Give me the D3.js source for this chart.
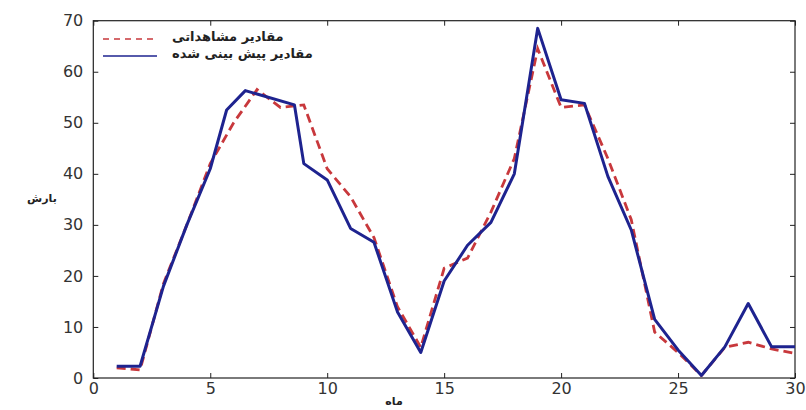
<!DOCTYPE html>
<html lang="fa">
<head>
<meta charset="UTF-8"/>
<title>بارش ماهانه</title>
<script src="https://d3js.org/d3.v7.min.js"></script>
<style>
	body { margin: 0; background: #fff; }
</style>
</head>
<body>
<script>
var w = 806;
var h = 410;

// observed values (red dashed), one per month
var months = [1, 2, 3, 4, 5, 6, 7, 8, 9, 10, 11, 12, 13, 14, 15, 16, 17, 18, 19, 20, 21, 22, 23, 24, 25, 26, 27, 28, 29, 30];
var observed = [2.0, 1.6, 18.5, 30, 42, 50, 56.5, 53, 53.5, 41, 35.5, 27.5, 14, 6, 21.5, 23.5, 32.5, 43, 64.5, 53, 53.5, 43, 31, 9, 5, 0.5, 6, 7, 5.7, 4.8];

// predicted values (blue solid); the x positions
var predMonths = [1, 2, 3, 4, 5, 5.7, 6.5, 8.6, 9, 10, 11, 12, 13, 14, 15, 16, 17, 18, 19, 20, 21, 22, 23, 24, 25, 26, 27, 28, 29, 30];
var predicted = [2.3, 2.3, 18, 30, 41, 52.5, 56.3, 53.5, 42, 38.8, 29.3, 26.6, 13, 5, 19, 26, 30.5, 40, 68.5, 54.5, 53.8, 39.5, 29, 11.5, 5.5, 0.5, 6.1, 14.6, 6.1, 6.1];

var xTicks = [0, 5, 10, 15, 20, 25, 30];
var yTicks = [0, 10, 20, 30, 40, 50, 60, 70];

var seriesNames = ["مقادیر مشاهداتی", "مقادیر پیش بینی شده"];
var xTitle = "ماه";
var yTitle = "بارش";

var plotLeft = 93.3, plotRight = 795, plotTop = 20.7, plotBottom = 378;

var x = d3.scaleLinear().domain([0, 30]).range([plotLeft, plotRight]);
var y = d3.scaleLinear().domain([0, 70]).range([plotBottom, plotTop]);

var svg = d3.select("body").append("svg")
	.attr("width", w)
	.attr("height", h);

function styleAxis(g) {
	g.select(".domain").remove();
	g.selectAll(".tick line").attr("stroke", "#222");
	g.selectAll(".tick text")
		.attr("font-family", "DejaVu Sans, sans-serif")
		.attr("font-size", "16px")
		.attr("fill", "#333");
}

// bottom and left axes with labels, ticks pointing inward
svg.append("g")
	.attr("transform", "translate(0," + plotBottom + ")")
	.call(d3.axisBottom(x).tickValues(xTicks).tickSize(-5).tickPadding(5))
	.call(styleAxis);

svg.append("g")
	.attr("transform", "translate(" + plotLeft + ",0)")
	.call(d3.axisLeft(y).tickValues(yTicks).tickSize(-5).tickPadding(10))
	.call(styleAxis);

// top and right: ticks only
svg.append("g")
	.attr("transform", "translate(0," + plotTop + ")")
	.call(d3.axisTop(x).tickValues(xTicks).tickSize(-5).tickFormat(""))
	.call(styleAxis);

svg.append("g")
	.attr("transform", "translate(" + plotRight + ",0)")
	.call(d3.axisRight(y).tickValues(yTicks).tickSize(-5).tickFormat(""))
	.call(styleAxis);

// box
svg.append("rect")
	.attr("x", plotLeft)
	.attr("y", plotTop)
	.attr("width", plotRight - plotLeft)
	.attr("height", plotBottom - plotTop)
	.attr("fill", "none")
	.attr("stroke", "#222")
	.attr("stroke-width", 1.2);

var line = d3.line()
	.x(function(d) { return x(d[0]); })
	.y(function(d) { return y(d[1]); });

svg.append("path")
	.datum(months.map(function(m, i) { return [m, observed[i]]; }))
	.attr("d", line)
	.attr("fill", "none")
	.attr("stroke", "#c8383c")
	.attr("stroke-width", 2.8)
	.attr("stroke-dasharray", "9,5");

svg.append("path")
	.datum(predMonths.map(function(m, i) { return [m, predicted[i]]; }))
	.attr("d", line)
	.attr("fill", "none")
	.attr("stroke", "#1e238f")
	.attr("stroke-width", 3)
	.attr("stroke-linejoin", "round");

// legend (no frame)
var legend = svg.append("g");
var legendY = [39, 56];
legend.selectAll("line")
	.data(seriesNames)
	.enter()
	.append("line")
	.attr("x1", 103)
	.attr("x2", 157)
	.attr("y1", function(d, i) { return legendY[i]; })
	.attr("y2", function(d, i) { return legendY[i]; })
	.attr("stroke", function(d, i) { return i === 0 ? "#c8383c" : "#1e238f"; })
	.attr("stroke-width", 1.4)
	.attr("stroke-dasharray", function(d, i) { return i === 0 ? "6,5" : null; });

legend.selectAll("text")
	.data(seriesNames)
	.enter()
	.append("text")
	.attr("x", 172)
	.attr("y", function(d, i) { return legendY[i] + 1; })
	.attr("dy", "0.1em")
	.attr("font-family", "DejaVu Sans, sans-serif")
	.attr("font-size", "13px")
	.attr("font-weight", "bold")
	.attr("fill", "#222")
	.text(function(d) { return d; });

// axis titles
svg.append("text")
	.attr("x", 42)
	.attr("y", 202)
	.attr("text-anchor", "middle")
	.attr("font-family", "DejaVu Sans, sans-serif")
	.attr("font-size", "11px")
	.attr("font-weight", "bold")
	.attr("fill", "#222")
	.text(yTitle);

svg.append("text")
	.attr("x", 394)
	.attr("y", 405)
	.attr("text-anchor", "middle")
	.attr("font-family", "DejaVu Sans, sans-serif")
	.attr("font-size", "11px")
	.attr("font-weight", "bold")
	.attr("fill", "#222")
	.text(xTitle);
</script>
</body>
</html>
